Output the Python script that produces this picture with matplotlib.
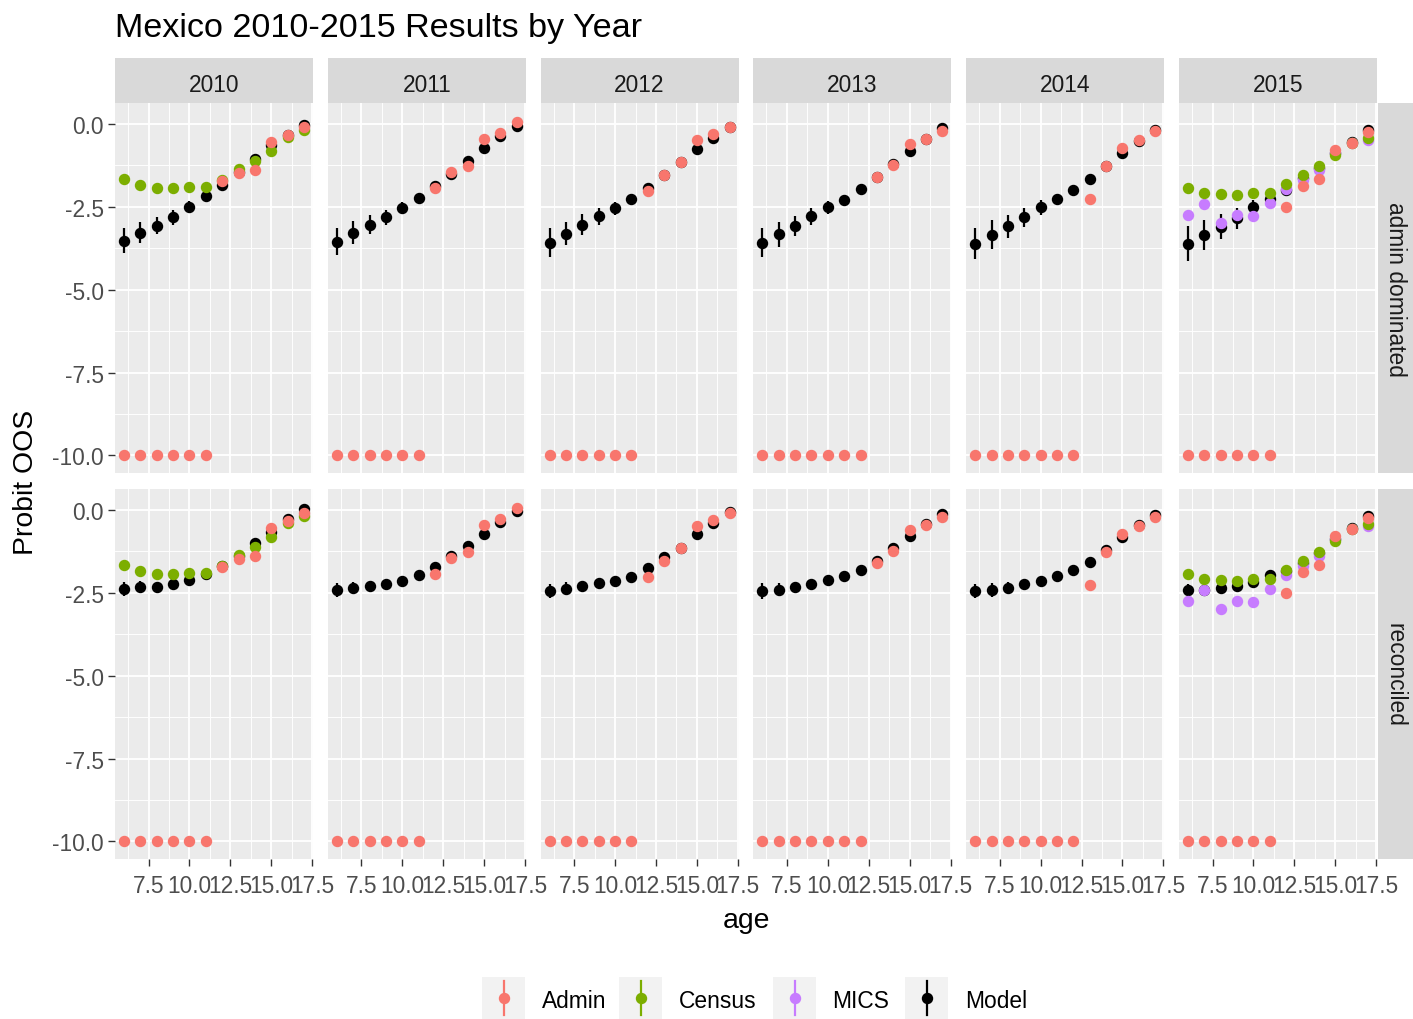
import matplotlib.pyplot as plt

plt.rcParams['font.family'] = ['Liberation Sans', 'DejaVu Sans']

ages = [6, 7, 8, 9, 10, 11, 12, 13, 14, 15, 16, 17]
years = [2010, 2011, 2012, 2013, 2014, 2015]
row_names = ['admin dominated', 'reconciled']

x_breaks = [7.5, 10.0, 12.5, 15.0, 17.5]
x_labels = ['7.5', '10.0', '12.5', '15.0', '17.5']
y_breaks = [0.0, -2.5, -5.0, -7.5, -10.0]
y_labels = ['0.0', '-2.5', '-5.0', '-7.5', '-10.0']

sources = ['Admin', 'Census', 'MICS', 'Model']
source_colors = ['#F8766D', '#7CAE00', '#C77CFF', '#000000']

# observed data (same in both rows); -10 marks ages with no admin data
admin = {
    2010: [-10, -10, -10, -10, -10, -10, -1.72, -1.48, -1.39, -0.55, -0.35, -0.08],
    2011: [-10, -10, -10, -10, -10, -10, -1.93, -1.45, -1.27, -0.45, -0.27, 0.05],
    2012: [-10, -10, -10, -10, -10, -10, -2.03, -1.55, -1.15, -0.50, -0.31, -0.08],
    2013: [-10, -10, -10, -10, -10, -10, -10, -1.60, -1.25, -0.60, -0.46, -0.20],
    2014: [-10, -10, -10, -10, -10, -10, -10, -2.28, -1.27, -0.73, -0.50, -0.22],
    2015: [-10, -10, -10, -10, -10, -10, -2.50, -1.87, -1.67, -0.80, -0.58, -0.25],
}
census = {
    2010: [-1.67, -1.84, -1.93, -1.93, -1.89, -1.89, -1.68, -1.37, -1.11, -0.82, -0.39, -0.18],
    2015: [-1.93, -2.08, -2.11, -2.14, -2.08, -2.08, -1.81, -1.55, -1.28, -0.95, -0.58, -0.42],
}
mics = {
    2015: [-2.74, -2.43, -2.98, -2.76, -2.77, -2.40, -1.95, -1.70, -1.40, -0.88, -0.58, -0.48],
}

# model estimates and half-widths of the intervals
model_admin_dom = {
    2010: [-3.52, -3.28, -3.07, -2.82, -2.50, -2.18, -1.84, -1.45, -1.05, -0.65, -0.35, -0.02],
    2011: [-3.55, -3.28, -3.04, -2.82, -2.55, -2.23, -1.88, -1.52, -1.11, -0.73, -0.38, -0.05],
    2012: [-3.58, -3.31, -3.04, -2.79, -2.55, -2.26, -1.92, -1.55, -1.15, -0.77, -0.42, -0.10],
    2013: [-3.58, -3.33, -3.07, -2.79, -2.52, -2.29, -1.96, -1.60, -1.20, -0.83, -0.47, -0.13],
    2014: [-3.61, -3.34, -3.09, -2.82, -2.52, -2.26, -1.98, -1.67, -1.27, -0.87, -0.51, -0.17],
    2015: [-3.61, -3.36, -3.10, -2.85, -2.52, -2.26, -2.00, -1.62, -1.32, -0.88, -0.55, -0.18],
}
model_admin_dom_err = {
    2010: [0.38, 0.32, 0.26, 0.22, 0.17, 0.12, 0.10, 0.08, 0.08, 0.08, 0.08, 0.08],
    2011: [0.40, 0.34, 0.28, 0.23, 0.18, 0.13, 0.10, 0.08, 0.08, 0.08, 0.08, 0.08],
    2012: [0.43, 0.35, 0.31, 0.25, 0.20, 0.13, 0.10, 0.08, 0.08, 0.08, 0.08, 0.08],
    2013: [0.45, 0.38, 0.30, 0.26, 0.20, 0.14, 0.10, 0.08, 0.08, 0.08, 0.08, 0.08],
    2014: [0.47, 0.43, 0.34, 0.29, 0.22, 0.15, 0.10, 0.08, 0.08, 0.08, 0.08, 0.08],
    2015: [0.52, 0.45, 0.38, 0.32, 0.22, 0.15, 0.10, 0.08, 0.08, 0.08, 0.08, 0.08],
}
model_reconciled = {
    2010: [-2.39, -2.32, -2.32, -2.25, -2.12, -1.92, -1.70, -1.40, -1.01, -0.66, -0.27, 0.03],
    2011: [-2.42, -2.37, -2.29, -2.23, -2.15, -1.95, -1.71, -1.40, -1.08, -0.73, -0.37, -0.03],
    2012: [-2.45, -2.38, -2.29, -2.22, -2.15, -2.03, -1.75, -1.42, -1.14, -0.73, -0.40, -0.05],
    2013: [-2.45, -2.41, -2.32, -2.23, -2.12, -1.99, -1.81, -1.53, -1.14, -0.80, -0.42, -0.12],
    2014: [-2.45, -2.42, -2.35, -2.25, -2.15, -1.99, -1.81, -1.58, -1.22, -0.83, -0.47, -0.15],
    2015: [-2.43, -2.43, -2.37, -2.29, -2.17, -1.97, -1.85, -1.60, -1.30, -0.88, -0.55, -0.17],
}
model_reconciled_err = {
    2010: [0.22, 0.17, 0.13, 0.10, 0.08, 0.07, 0.07, 0.07, 0.07, 0.07, 0.07, 0.07],
    2011: [0.22, 0.18, 0.14, 0.10, 0.08, 0.07, 0.07, 0.07, 0.07, 0.07, 0.07, 0.07],
    2012: [0.22, 0.19, 0.14, 0.10, 0.08, 0.07, 0.07, 0.07, 0.07, 0.07, 0.07, 0.07],
    2013: [0.25, 0.20, 0.15, 0.11, 0.08, 0.07, 0.07, 0.07, 0.07, 0.07, 0.07, 0.07],
    2014: [0.22, 0.20, 0.18, 0.12, 0.09, 0.07, 0.07, 0.07, 0.07, 0.07, 0.07, 0.07],
    2015: [0.20, 0.18, 0.16, 0.12, 0.09, 0.07, 0.07, 0.07, 0.07, 0.07, 0.07, 0.07],
}
model_rows = [(model_admin_dom, model_admin_dom_err), (model_reconciled, model_reconciled_err)]

W, H = 1413, 1020
fig = plt.figure(figsize=(W / 100, H / 100), dpi=100)
fig.patch.set_facecolor('white')

# panel geometry in pixels
pan_left0, pan_w, pan_gap = 115, 198, 14.8
row_tops = [104, 490]
pan_h = 370
strip_h = 45

minor_x = [6.25, 8.75, 11.25, 13.75, 16.25]
minor_y = [-1.25, -3.75, -6.25, -8.75]
ms = 7.2


def fx(px):
    return px / W


def fy(py):
    return 1 - py / H


for r in range(2):
    means, errs = model_rows[r]
    for c, yr in enumerate(years):
        left = pan_left0 + c * (pan_w + pan_gap)
        top = row_tops[r]
        ax = fig.add_axes([fx(left), fy(top + pan_h), pan_w / W, pan_h / H])
        ax.set_facecolor('#EBEBEB')
        ax.set_xlim(5.45, 17.55)
        ax.set_ylim(-10.53, 0.63)
        ax.set_xticks(x_breaks)
        ax.set_yticks(y_breaks)
        ax.set_xticks(minor_x, minor=True)
        ax.set_yticks(minor_y, minor=True)
        ax.grid(which='major', color='white', lw=1.3)
        ax.grid(which='minor', color='white', lw=0.65)
        ax.set_axisbelow(True)
        for s in ax.spines.values():
            s.set_visible(False)
        ax.tick_params(which='minor', length=0)
        ax.tick_params(which='major', length=5, width=1.0, color='#333333',
                       labelcolor='#4D4D4D', labelsize=16.4, pad=3)
        ax.tick_params(axis='x', pad=6)
        if c == 0:
            ax.set_yticklabels(y_labels)
        else:
            ax.tick_params(axis='y', left=False, labelleft=False)
        if r == 1:
            ax.set_xticklabels(x_labels)
        else:
            ax.tick_params(axis='x', bottom=False, labelbottom=False)

        ax.errorbar(ages, means[yr], yerr=errs[yr], fmt='o', color='black',
                    ms=ms, elinewidth=1.6, capsize=0, zorder=3)
        if yr in mics:
            ax.plot(ages, mics[yr], 'o', color=source_colors[2], ms=ms, zorder=4)
        if yr in census:
            ax.plot(ages, census[yr], 'o', color=source_colors[1], ms=ms, zorder=5)
        ax.plot(ages, admin[yr], 'o', color=source_colors[0], ms=ms, zorder=6)

        if r == 0:
            sax = fig.add_axes([fx(left), fy(top), pan_w / W, strip_h / H])
            sax.set_facecolor('#D9D9D9')
            sax.set_xticks([])
            sax.set_yticks([])
            for s in sax.spines.values():
                s.set_visible(False)
            sax.text(0.5, 0.42, str(yr), ha='center', va='center',
                     fontsize=16.4, color='#1A1A1A', transform=sax.transAxes)

    # row strip on the right
    rax = fig.add_axes([fx(1378), fy(row_tops[r] + pan_h), 35 / W, pan_h / H])
    rax.set_facecolor('#D9D9D9')
    rax.set_xticks([])
    rax.set_yticks([])
    for s in rax.spines.values():
        s.set_visible(False)
    rax.text(0.5, 0.5, row_names[r], ha='center', va='center', rotation=-90,
             fontsize=16.4, color='#1A1A1A', transform=rax.transAxes)

# titles
fig.text(fx(115), fy(29), 'Mexico 2010-2015 Results by Year', ha='left', va='center',
         fontsize=24.6, color='black')
fig.text(fx(746), fy(921), 'age', ha='center', va='center', fontsize=20.4)
fig.text(fx(26), fy(482), 'Probit OOS', ha='center', va='center', rotation=90, fontsize=20.4)

# legend
key_lefts = [482, 619, 773, 905]
label_lefts = [542, 679, 832, 965]
key_size = 43
key_cy = 999
for name, col, kl, ll in zip(sources, source_colors, key_lefts, label_lefts):
    kax = fig.add_axes([fx(kl), fy(key_cy + key_size / 2), key_size / W, key_size / H])
    kax.set_facecolor('#F2F2F2')
    kax.set_xlim(0, 1)
    kax.set_ylim(0, 1)
    kax.set_xticks([])
    kax.set_yticks([])
    for s in kax.spines.values():
        s.set_visible(False)
    kax.plot([0.5, 0.5], [0.1, 0.9], color=col, lw=1.6)
    kax.plot([0.5], [0.5], 'o', color=col, ms=ms)
    fig.text(fx(ll), fy(key_cy + 3), name, ha='left', va='center', fontsize=16.4, color='black')

fig.savefig('out.png', dpi=100)
